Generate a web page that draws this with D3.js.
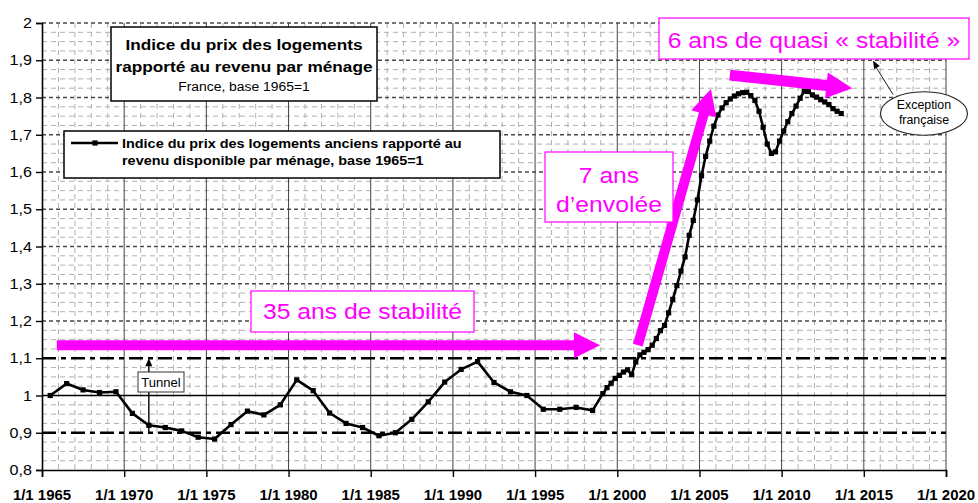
<!DOCTYPE html>
<html><head><meta charset="utf-8">
<script src="https://cdn.jsdelivr.net/npm/d3@7"></script>
<style>
html,body{margin:0;padding:0;background:#fff;}
svg text{font-family:"Liberation Sans",Arial,sans-serif;}
</style></head>
<body><svg id="c" width="978" height="503"></svg>
<script>
// ---- data ----
const annualStart = 1965;
const annualValues = [1.000,1.032,1.015,1.008,1.010,0.952,0.920,0.914,0.905,0.888,
  0.883,0.922,0.958,0.948,0.975,1.042,1.013,0.953,0.925,0.914,
  0.892,0.900,0.936,0.983,1.036,1.070,1.091,1.035,1.010,1.000,
  0.963,0.963,0.968,0.960];
const quarterStart = 1999.125;
const quarterValues = [1.005,1.021,1.033,1.046,1.054,1.063,1.069,1.056,1.090,1.109,
  1.116,1.123,1.135,1.153,1.174,1.188,1.222,1.258,1.295,1.334,
  1.372,1.430,1.470,1.525,1.590,1.642,1.683,1.723,1.753,1.772,
  1.786,1.796,1.804,1.810,1.813,1.814,1.805,1.792,1.763,1.720,
  1.675,1.650,1.654,1.683,1.710,1.735,1.757,1.777,1.798,1.817,
  1.816,1.807,1.801,1.794,1.788,1.781,1.770,1.763,1.757];
const xTickYears = [1965,1970,1975,1980,1985,1990,1995,2000,2005,2010,2015,2020];
const xTickLabels = ["1/1 1965","1/1 1970","1/1 1975","1/1 1980","1/1 1985","1/1 1990","1/1 1995","1/1 2000","1/1 2005","1/1 2010","1/1 2015","1/1 2020"];
const yTicks = [0.8,0.9,1.0,1.1,1.2,1.3,1.4,1.5,1.6,1.7,1.8,1.9,2.0];
const yTickLabels = ["0,8","0,9","1","1,1","1,2","1,3","1,4","1,5","1,6","1,7","1,8","1,9","2"];
const titleLines = ["Indice du prix des logements","rapporté au revenu par ménage","France, base 1965=1"];
const legendLines = ["Indice du prix des logements anciens rapporté au","revenu disponible par ménage, base 1965=1"];
const tunnelBand = [0.9, 1.1];
const baseLevel = 1.0;
// annotation arrows in data coords [year, value]
const arrowStable = [[1965.9,1.135],[1998.95,1.135]];
const arrowRise = [[2001.25,1.135],[2005.7,1.823]];
const arrowPlateau = [[2006.85,1.86],[2014.3,1.825]];

// ---- scales ----
const svg = d3.select("#c");
const x = d3.scaleLinear().domain([1965,2020]).range([42,946]);
const y = d3.scaleLinear().domain([0.8,2.0]).range([470,23]);
const PINK = "#ff00ff";

function stext(parent, px, py, str, o) {
  const g = parent.append("g").attr("transform", `translate(${px},${py}) scale(${o.sx||1},1)`);
  return g.append("text").attr("text-anchor", o.anchor||"start")
    .attr("font-size", o.size).attr("font-weight", o.weight||"normal")
    .attr("fill", o.fill||"#000").text(str);
}

// ---- grid ----
const grid = svg.append("g");
const minorYears = d3.range(1966,2020).filter(v => v % 5 !== 0);
grid.selectAll(".vmin").data(minorYears).join("line")
  .attr("x1", d=>x(d)).attr("x2", d=>x(d)).attr("y1", y(2)).attr("y2", y(0.8))
  .attr("stroke","#b0b0b0").attr("stroke-width",1).attr("stroke-dasharray","5,4");
const minorVals = d3.range(0,48).map(i => 0.8 + i*0.025).filter((v,i) => i % 4 !== 0);
grid.selectAll(".hmin").data(minorVals).join("line")
  .attr("x1", x(1965)).attr("x2", x(2020)).attr("y1", d=>y(d)).attr("y2", d=>y(d))
  .attr("stroke","#b0b0b0").attr("stroke-width",1).attr("stroke-dasharray","5,4");
const majorH = yTicks.filter(v => v > 0.85 && Math.abs(v-1.0)>0.01 && Math.abs(v-1.1)>0.01 && Math.abs(v-0.9)>0.01);
grid.selectAll(".hmaj").data(majorH).join("line")
  .attr("x1", x(1965)).attr("x2", x(2020)).attr("y1", d=>y(d)).attr("y2", d=>y(d))
  .attr("stroke","#4a4a4a").attr("stroke-width",1.3).attr("stroke-dasharray","4,3");
grid.selectAll(".vmaj").data(xTickYears.slice(1)).join("line")
  .attr("x1", d=>x(d)).attr("x2", d=>x(d)).attr("y1", y(2)).attr("y2", y(0.8))
  .attr("stroke","#444").attr("stroke-width",1);

// reference lines
svg.append("line").attr("x1",x(1965)).attr("x2",x(2020)).attr("y1",y(baseLevel)).attr("y2",y(baseLevel))
  .attr("stroke","#000").attr("stroke-width",1.5);
svg.selectAll(".band").data(tunnelBand).join("line")
  .attr("x1",x(1965)).attr("x2",x(2020)).attr("y1",d=>y(d)).attr("y2",d=>y(d))
  .attr("stroke","#000").attr("stroke-width",2.6).attr("stroke-dasharray","14,5,5,5");

// ---- axes ----
const yAxis = d3.axisLeft(y).tickValues(yTicks).tickFormat((d,i)=>"").tickSize(6);
const ya = svg.append("g").attr("transform",`translate(${x(1965)},0)`).call(yAxis);
ya.select(".domain").attr("stroke","#000").attr("stroke-width",1.6);
ya.selectAll(".tick line").attr("stroke","#000").attr("stroke-width",1.4);
yTicks.forEach((v,i) => stext(svg, 32, y(v)+5, yTickLabels[i], {size:14, anchor:"end", sx:1.15}));
const xAxis = d3.axisBottom(x).tickValues(xTickYears).tickFormat(()=>"").tickSize(7);
const xa = svg.append("g").attr("transform",`translate(0,${y(0.8)})`).call(xAxis);
xa.select(".domain").attr("stroke","#000").attr("stroke-width",1.6);
xa.selectAll(".tick line").attr("stroke","#000").attr("stroke-width",1.4);
xTickYears.forEach((v,i) => stext(svg, x(v), 500, xTickLabels[i], {size:14, weight:"bold", anchor:"middle", sx:1.07}));

// ---- tunnel annotation ----
svg.append("line").attr("x1",x(1971.5)).attr("x2",x(1971.5)).attr("y1",y(1.1)+5).attr("y2",y(0.9))
  .attr("stroke","#000").attr("stroke-width",1.4);
svg.append("path").attr("d", d3.line()([[x(1971.5)-3.5,y(1.1)+8],[x(1971.5),y(1.1)],[x(1971.5)+3.5,y(1.1)+8]]))
  .attr("fill","#000");
svg.append("rect").attr("x",138).attr("y",372).attr("width",46).attr("height",20)
  .attr("fill","#fff").attr("stroke","#333").attr("stroke-width",1);
stext(svg, 161, 387, "Tunnel", {size:13, anchor:"middle", sx:1.0});

// ---- data line ----
const series = annualValues.map((v,i)=>[annualStart+i+0.5, v])
  .concat(quarterValues.map((v,i)=>[quarterStart+i*0.25, v]));
svg.append("path").datum(series)
  .attr("d", d3.line().x(d=>x(d[0])).y(d=>y(d[1])))
  .attr("fill","none").attr("stroke","#000").attr("stroke-width",2.6).attr("stroke-linejoin","round");
svg.selectAll(".pt").data(series).join("rect")
  .attr("x", d=>x(d[0])-2.6).attr("y", d=>y(d[1])-2.6).attr("width",5.2).attr("height",5.2).attr("fill","#000");

// ---- title box ----
svg.append("rect").attr("x",111).attr("y",27).attr("width",266).attr("height",74)
  .attr("fill","#fff").attr("stroke","#000").attr("stroke-width",1.5);
stext(svg, 244, 50, titleLines[0], {size:15.5, weight:"bold", anchor:"middle", sx:1.11});
stext(svg, 244, 72, titleLines[1], {size:15.5, weight:"bold", anchor:"middle", sx:1.11});
stext(svg, 244, 91, titleLines[2], {size:13.5, anchor:"middle", sx:1.03});

// ---- legend ----
svg.append("rect").attr("x",64).attr("y",131).attr("width",436).attr("height",47)
  .attr("fill","#fff").attr("stroke","#000").attr("stroke-width",1.5);
svg.append("line").attr("x1",71).attr("x2",118).attr("y1",143).attr("y2",143)
  .attr("stroke","#000").attr("stroke-width",2.6);
svg.append("rect").attr("x",92.4).attr("y",140.4).attr("width",5.2).attr("height",5.2).attr("fill","#000");
stext(svg, 122, 148, legendLines[0], {size:13, weight:"bold", sx:1.11});
stext(svg, 122, 165, legendLines[1], {size:13, weight:"bold", sx:1.11});

// ---- pink arrows ----
function arrowPoly(a, b, w, hl, hw) {
  const p0 = [x(a[0]), y(a[1])], p1 = [x(b[0]), y(b[1])];
  const dx = p1[0]-p0[0], dy = p1[1]-p0[1], L = Math.hypot(dx,dy);
  const u = [dx/L, dy/L], n = [-u[1], u[0]];
  const base = [p1[0]-u[0]*hl, p1[1]-u[1]*hl];
  const P = (p, k, s) => [p[0]+n[0]*k*s, p[1]+n[1]*k*s];
  return [P(p0,w/2,1), P(base,w/2,1), P(base,hw,1), p1, P(base,hw,-1), P(base,w/2,-1), P(p0,w/2,-1)];
}
[[arrowStable,10,26,13],[arrowRise,10,26,13],[arrowPlateau,11,26,13]].forEach(([a,w,hl,hw]) => {
  svg.append("path").attr("d", d3.line()(arrowPoly(a[0],a[1],w,hl,hw))+"Z").attr("fill",PINK);
});

// ---- pink boxes ----
svg.append("rect").attr("x",251).attr("y",291).attr("width",223).attr("height",41)
  .attr("fill","#fff").attr("stroke",PINK).attr("stroke-width",1.2);
stext(svg, 362.5, 319, "35 ans de stabilité", {size:23, anchor:"middle", fill:PINK, sx:1.075});
svg.append("rect").attr("x",545).attr("y",152).attr("width",128).attr("height",70)
  .attr("fill","#fff").attr("stroke",PINK).attr("stroke-width",1.2);
stext(svg, 609, 183, "7 ans", {size:23, anchor:"middle", fill:PINK, sx:1.075});
stext(svg, 609, 212, "d’envolée", {size:23, anchor:"middle", fill:PINK, sx:1.075});
svg.append("rect").attr("x",659).attr("y",18).attr("width",310).attr("height",41)
  .attr("fill","#fff").attr("stroke",PINK).attr("stroke-width",1.2);
stext(svg, 814, 48, "6 ans de quasi « stabilité »", {size:23, anchor:"middle", fill:PINK, sx:1.075});

// ---- exception française ----
const ex = [2018.66, 1.757];
svg.append("line").attr("x1",x(2016.78)).attr("y1",y(1.808)).attr("x2",x(2015.62)).attr("y2",y(1.89))
  .attr("stroke","#222").attr("stroke-width",1);
svg.append("path").attr("d", d3.line()(arrowPoly([2016.2,1.85],[2015.56,1.899],0,8,3.2))+"Z").attr("fill","#000");
svg.append("ellipse").attr("cx",x(ex[0])).attr("cy",y(ex[1])).attr("rx",43.5).attr("ry",21.7)
  .attr("fill","#fff").attr("stroke","#222").attr("stroke-width",1.1);
stext(svg, x(ex[0]), y(ex[1])-5, "Exception", {size:12, anchor:"middle", sx:1.03});
stext(svg, x(ex[0]), y(ex[1])+10.5, "française", {size:12, anchor:"middle", sx:1.03});
</script></body></html>
